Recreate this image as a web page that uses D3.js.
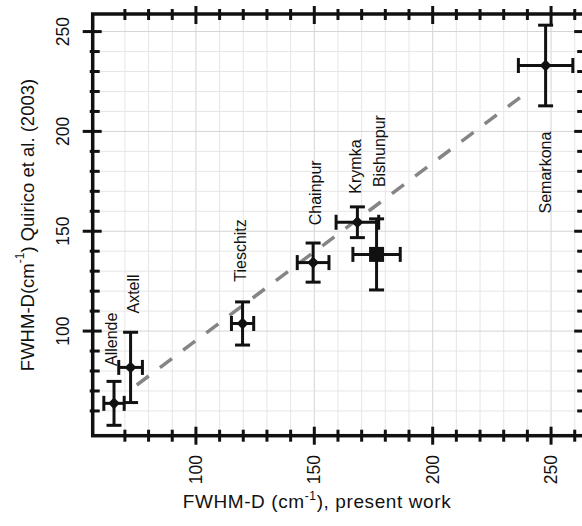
<!DOCTYPE html>
<html>
<head>
<meta charset="utf-8">
<script src="https://cdn.jsdelivr.net/npm/d3@7/dist/d3.min.js"></script>
<style>
  html, body { margin: 0; padding: 0; background: #fff; }
  svg { display: block; }
  text { font-family: "Liberation Sans", Arial, Helvetica, sans-serif; fill: #111; }
</style>
</head>
<body>
<svg id="chart" width="582" height="526"></svg>
<script>
// ---- data ----
const names  = ["Allende", "Axtell", "Tieschitz", "Chainpur", "Krymka", "Bishunpur", "Semarkona"];
const xVal   = [65.4, 72.4, 119.7, 149.5, 168.2, 176.3, 247.7];
const xErr   = [4.3, 5.0, 4.7, 6.7, 9.0, 10.0, 11.5];
const yVal   = [63.8, 81.8, 103.8, 134.3, 154.5, 138.4, 233.0];
const yErr   = [11.0, 17.6, 10.8, 9.8, 7.7, 17.8, 20.2];
const marker = ["diamond", "diamond", "diamond", "diamond", "diamond", "square", "diamond"];
const labelX = [64.5, 73.4, 118.8, 150.3, 167.5, 177.6, 247.8];
const labelY = [82.5, 108.8, 124.7, 153.0, 168.8, 172.1, 158.9];
const fitX   = [75, 241.3];
const fitY   = [73, 220.9];
const xMajor = [100, 150, 200, 250];
const yMajor = [100, 150, 200, 250];
const xMinor = d3.range(70, 261, 10);
const yMinor = d3.range(60, 251, 10);

// ---- scales ----
const x = d3.scaleLinear().domain([56.4, 264]).range([92.7, 584.2]);
const y = d3.scaleLinear().domain([47.6, 258.8]).range([435.7, 14]);

const svg = d3.select("#chart");
const L = x.range()[0], R = x.range()[1], B = y.range()[0], T = y.range()[1];

svg.append("defs").append("clipPath").attr("id", "clip")
  .append("rect").attr("x", L).attr("y", T).attr("width", R - L).attr("height", B - T);

// grid
const grid = svg.append("g").attr("clip-path", "url(#clip)");
grid.selectAll(".gx").data(xMinor).join("line")
  .attr("x1", d => x(d)).attr("x2", d => x(d)).attr("y1", T).attr("y2", B)
  .attr("stroke", d => d % 50 === 0 ? "#d4d4d4" : "#e6e6e6").attr("stroke-width", 1);
grid.selectAll(".gy").data(yMinor).join("line")
  .attr("y1", d => y(d)).attr("y2", d => y(d)).attr("x1", L).attr("x2", R)
  .attr("stroke", d => d % 50 === 0 ? "#d4d4d4" : "#e6e6e6").attr("stroke-width", 1);

// fit line
svg.append("line")
  .attr("x1", x(fitX[0])).attr("y1", y(fitY[0]))
  .attr("x2", x(fitX[1])).attr("y2", y(fitY[1]))
  .attr("stroke", "#858585").attr("stroke-width", 3.5)
  .attr("stroke-dasharray", "15,14");

// error bars
const cap = 7.5;
const pts = names.map((n, i) => ({n, i}));
const eb = svg.append("g").attr("stroke", "#111").attr("stroke-width", 3).attr("fill", "none");
pts.forEach(({i}) => {
  const cx = x(xVal[i]), cy = y(yVal[i]);
  const x0 = x(xVal[i] - xErr[i]), x1 = x(xVal[i] + xErr[i]);
  const y0 = y(yVal[i] - yErr[i]), y1 = y(yVal[i] + yErr[i]);
  eb.append("line").attr("x1", x0).attr("x2", x1).attr("y1", cy).attr("y2", cy);
  eb.append("line").attr("x1", x0).attr("x2", x0).attr("y1", cy - cap).attr("y2", cy + cap);
  eb.append("line").attr("x1", x1).attr("x2", x1).attr("y1", cy - cap).attr("y2", cy + cap);
  eb.append("line").attr("x1", cx).attr("x2", cx).attr("y1", y0).attr("y2", y1);
  eb.append("line").attr("x1", cx - cap).attr("x2", cx + cap).attr("y1", y0).attr("y2", y0);
  eb.append("line").attr("x1", cx - cap).attr("x2", cx + cap).attr("y1", y1).attr("y2", y1);
});

// markers
svg.append("g").selectAll("path").data(pts).join("path")
  .attr("transform", d => `translate(${x(xVal[d.i])},${y(yVal[d.i])})`)
  .attr("d", d => marker[d.i] === "square"
      ? d3.symbol(d3.symbolSquare, 225)()
      : d3.symbol(d3.symbolDiamond2 || d3.symbolDiamond, 90)())
  .attr("fill", "#111");

// point labels
svg.append("g").selectAll("text").data(pts).join("text")
  .attr("transform", d => `translate(${x(labelX[d.i])},${y(labelY[d.i])}) rotate(-90)`)
  .attr("dy", "0.35em").attr("text-anchor", "start")
  .attr("font-size", 16).attr("fill", "#222")
  .text(d => d.n);

// spines
svg.append("rect").attr("x", L).attr("y", T).attr("width", R - L).attr("height", B - T)
  .attr("fill", "none").attr("stroke", "#111").attr("stroke-width", 3.5);

// ticks
const tk = svg.append("g").attr("stroke", "#111").attr("stroke-width", 3);
function isMaj(d) { return d % 50 === 0; }
// bottom
tk.selectAll(".tb").data(xMinor).join("line")
  .attr("x1", d => x(d)).attr("x2", d => x(d))
  .attr("y1", d => B - (isMaj(d) ? 9 : 6)).attr("y2", d => B + (isMaj(d) ? 9 : 6));
// top
tk.selectAll(".tt").data(xMinor).join("line")
  .attr("x1", d => x(d)).attr("x2", d => x(d))
  .attr("y1", d => T - (isMaj(d) ? 8 : 5)).attr("y2", d => T + (isMaj(d) ? 10 : 6));
// left
tk.selectAll(".tl").data(yMinor).join("line")
  .attr("y1", d => y(d)).attr("y2", d => y(d))
  .attr("x1", d => L - (isMaj(d) ? 10 : 3)).attr("x2", d => L + (isMaj(d) ? 9 : 7));
// right
tk.selectAll(".tr").data(yMinor).join("line")
  .attr("y1", d => y(d)).attr("y2", d => y(d))
  .attr("x1", d => R - (isMaj(d) ? 10 : 7)).attr("x2", d => R + 5);

// tick labels
svg.append("g").selectAll("text").data(xMajor).join("text")
  .attr("transform", d => `translate(${x(d)},455) rotate(-90)`)
  .attr("dy", "0.35em").attr("text-anchor", "end").attr("font-size", 17.5)
  .text(d => d);
svg.append("g").selectAll("text").data(yMajor).join("text")
  .attr("transform", d => `translate(63,${y(d)}) rotate(-90)`)
  .attr("dy", "0.35em").attr("text-anchor", "middle").attr("font-size", 17.5)
  .text(d => d);

// axis titles
const xt = svg.append("text").attr("x", 317).attr("y", 508)
  .attr("text-anchor", "middle").attr("font-size", 19).attr("letter-spacing", 0.6);
xt.append("tspan").text("FWHM-D (cm");
xt.append("tspan").attr("font-size", 12).attr("dy", -8).text("-1");
xt.append("tspan").attr("dy", 8).text("), present work");

const yt = svg.append("text").attr("transform", "translate(28,225) rotate(-90)")
  .attr("dy", "0.35em").attr("text-anchor", "middle").attr("font-size", 18.5);
yt.append("tspan").text("FWHM-D(cm");
yt.append("tspan").attr("font-size", 12).attr("dy", "-0.85em").text("-1");
yt.append("tspan").attr("dy", "0.55em").text(") Quirico et al. (2003)");
</script>
</body>
</html>
